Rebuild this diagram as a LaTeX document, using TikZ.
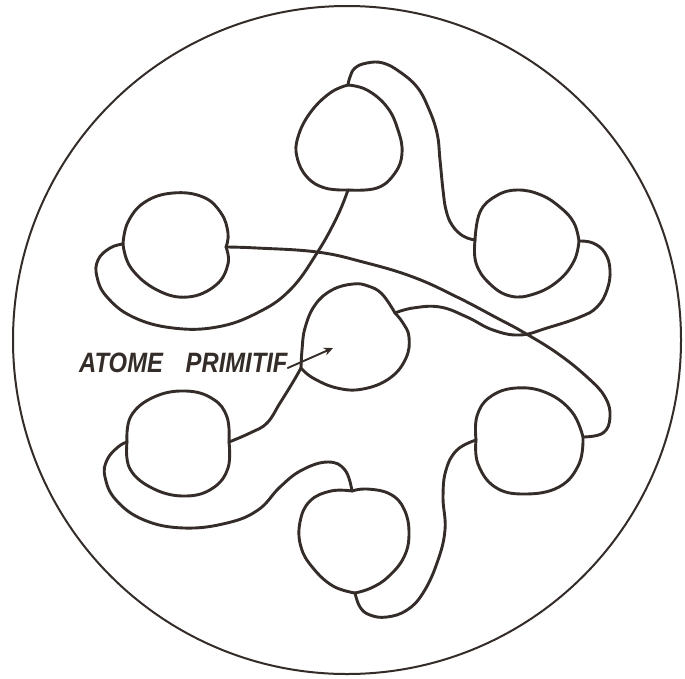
\documentclass[tikz,border=0pt]{standalone}
\usepackage{fontspec}
\usepackage{graphicx}
\usetikzlibrary{arrows.meta}
\setmainfont{Liberation Sans}
\definecolor{inkc}{HTML}{332C28}
\tikzset{
  ink/.style={draw=inkc, line width=2.9pt, line cap=round, line join=round},
  rim/.style={draw=inkc, line width=2pt},
  lbl/.style={inner sep=0pt, anchor=base west, text=inkc,
    font=\fontsize{28}{28}\selectfont\bfseries\itshape},
  pointer/.style={draw=inkc, line width=1.9pt, line cap=round,
    -{Stealth[length=9pt,width=8pt]}},
  sm/.style={smooth, tension=0.7}
}
\begin{document}
\begin{tikzpicture}[x=1pt,y=-1pt]
\path[use as bounding box, fill=white] (0,0) rectangle (685,678);
% outer circle
\draw[rim] (347,340) circle[radius=334pt];

% notches
\coordinate (Tt) at (348,85);   \coordinate (Tb) at (348,190);
\coordinate (ULl) at (123,244); \coordinate (ULr) at (226,247);
\coordinate (URl) at (475,240); \coordinate (URr) at (579,241);
\coordinate (Cl) at (301,368);  \coordinate (Cr) at (395,313);
\coordinate (LLl) at (127,442); \coordinate (LLr) at (229,442);
\coordinate (Bt) at (352,491);  \coordinate (Bb) at (355,593);
\coordinate (LRl) at (476,440); \coordinate (LRr) at (583,437);
\coordinate (Atip) at (333,348);

% hearts
\draw[ink] plot[sm] coordinates {(Tt) (367,90) (387,107) (398,130) (402,153) (395,173) (377,188) (Tb)};
\draw[ink] plot[sm] coordinates {(Tt) (330,93) (310,113) (298,137) (297,157) (307,177) (325,188) (Tb)};

\draw[ink] plot[sm] coordinates {(ULl) (128,222) (145,202) (173,193) (203,197) (221,213) (228,233) (ULr)};
\draw[ink] plot[sm] coordinates {(ULl) (131,268) (157,290) (188,297) (216,285) (228,264) (ULr)};

\draw[ink] plot[sm] coordinates {(URl) (480,212) (496,196) (517,190) (541,195) (561,208) (574,223) (URr)};
\draw[ink] plot[sm] coordinates {(URl) (476,263) (489,283) (510,296) (534,294) (558,281) (574,261) (URr)};

\draw[ink] plot[sm] coordinates {(Cl) (302,350) (305,328) (315,305) (332,290) (353,284) (368,286) (382,294) (Cr)};
\draw[ink] plot[sm] coordinates {(Cl) (313,378) (337,388) (363,389) (390,378) (406,358) (409,337) (403,323) (Cr)};

\draw[ink] plot[sm] coordinates {(LLl) (131,416) (154,397) (186,391) (213,399) (227,417) (LLr)};
\draw[ink] plot[sm] coordinates {(LLl) (130,469) (154,489) (186,496) (213,488) (228,468) (LLr)};

\draw[ink] plot[sm] coordinates {(Bt) (367,489) (390,494) (404,509) (409,533) (404,557) (388,577) (371,588) (Bb)};
\draw[ink] plot[sm] coordinates {(Bt) (331,491) (310,501) (300,522) (301,547) (313,568) (333,586) (Bb)};

\draw[ink] plot[sm] coordinates {(LRl) (477,416) (490,397) (516,388) (547,393) (572,412) (LRr)};
\draw[ink] plot[sm] coordinates {(LRl) (478,464) (495,487) (524,494) (559,487) (579,464) (LRr)};

% strings
\draw[ink] plot[sm] coordinates {(Tt) (350,77) (355,68) (367,63) (383,63) (400,72) (417,87) (428,107) (437,133) (440,160) (443,190) (446,210) (452,225) (463,236) (URl)};
\draw[ink] plot[sm] coordinates {(URr) (593,243) (605,253) (610,270) (607,290) (597,307) (580,317) (547,328) (520,335) (493,330) (467,317) (440,307) (413,308) (Cr)};
\draw[ink] plot[sm] coordinates {(Tb) (337,217) (317,253) (290,290) (257,313) (217,327) (173,328) (133,317) (107,297) (97,277) (98,260) (110,248) (ULl)};
\draw[ink] plot[sm] coordinates {(ULr) (257,248) (317,252) (363,262) (413,277) (457,297) (497,318) (523,332) (557,353) (587,377) (605,397) (610,417) (603,433) (LRr)};
\draw[ink] plot[sm] coordinates {(LRl) (457,450) (446,470) (443,497) (445,530) (437,563) (423,593) (407,610) (387,617) (370,615) (360,607) (Bb)};
\draw[ink] plot[sm] coordinates {(Bt) (345,470) (328,462) (302,470) (280,487) (258,510) (227,523) (184,528) (144,520) (116,500) (105,477) (107,460) (118,447) (LLl)};
\draw[ink] plot[sm] coordinates {(LLr) (250,433) (267,423) (280,403) (293,382) (Cl)};

% label
\node[lbl] (label) at (79,372) {\scalebox{0.85}[1]{ATOME}\hspace{15pt} \scalebox{0.85}[1]{PRIMITIF}};
\draw[pointer] ([xshift=0pt,yshift=4pt]label.base east) -- (Atip);
\end{tikzpicture}
\end{document}
